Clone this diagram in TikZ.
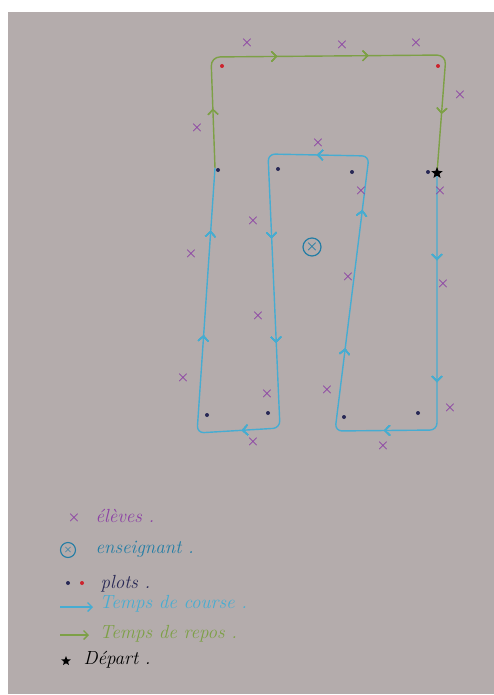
\documentclass[tikz,border=0pt]{standalone}
\usepackage{tikz}
\usepackage{xcolor}
\definecolor{Paper}{RGB}{180,172,172}
\definecolor{Course}{RGB}{70,172,210}
\definecolor{Repos}{RGB}{125,160,70}
\definecolor{Eleve}{RGB}{140,65,165}
\definecolor{Prof}{RGB}{35,125,165}
\definecolor{Plot}{RGB}{40,40,85}
\definecolor{PlotRed}{RGB}{205,35,45}
\usetikzlibrary{positioning,arrows.meta,shapes,decorations.markings}

\begin{document}
\begin{tikzpicture}[x=1pt, y=-1pt,
    course/.style={draw=Course, line width=1.4pt, rounded corners=7pt},
    repos/.style={draw=Repos, line width=1.4pt, rounded corners=9pt},
    eleve/.style={text=Eleve, inner sep=0pt, font=\Large\boldmath},
    plot/.style={circle, fill=Plot, inner sep=0pt, minimum size=4pt},
    plotrouge/.style={circle, fill=PlotRed, inner sep=0pt, minimum size=4pt},
    legende/.style={anchor=west, font=\fontsize{19}{22}\selectfont\itshape},
    chevron/.style={decoration={markings,
        mark=at position #1 with {\arrow{Straight Barb[length=5pt, width=10pt, line width=1.2pt]}}},
        postaction={decorate}}
]
    % feuille
    \useasboundingbox (0,0) rectangle (494,695);
    \fill[white] (0,0) rectangle (494,695);
    \fill[Paper] (8,12) rectangle (494,694);

    % coins du parcours
    \coordinate (depart) at (437,173);
    \coordinate (jonction) at (215,168);

    % temps de repos (vert)
    \draw[repos, chevron/.list={0.13,0.38,0.58,0.87}]
        (jonction) -- (211,57) -- (446,55) -- (depart);

    % temps de course (bleu)
    \draw[course, chevron/.list={0.065,0.156,0.229,0.325,0.429,0.506,0.603,0.681,0.771,0.875,0.953}]
        (depart) -- (437,430) -- (335,431) -- (369,156) -- (268,154)
        -- (280,428) -- (197,433) -- (jonction);

    % plots
    \node[plotrouge] (r1) at (222,66) {};
    \node[plotrouge] (r2) at (438,66) {};
    \foreach \x/\y [count=\i] in {218/170, 278/169, 352/172, 428/172,
                                 207/415, 268/413, 344/417, 418/413}
        \node[plot] (p\i) at (\x,\y) {};

    % eleves
    \foreach \x/\y [count=\i] in {247/43, 342/45, 416/43, 460/95, 197/128,
                                 318/143, 361/191, 440/191, 253/221, 191/254,
                                 348/277, 443/284, 258/316, 183/378, 267/394,
                                 327/390, 450/408, 253/442, 383/446}
        \node[eleve] (e\i) at (\x,\y) {$\times$};

    % enseignant
    \node[circle, draw=Prof, line width=1.2pt, minimum size=18pt, inner sep=0pt,
          text=Prof, font=\Large\boldmath] (prof) at (312,247) {$\times$};

    % depart
    \node[star, star points=5, star point ratio=2.3, fill=black, inner sep=0pt,
          minimum size=12pt] (star) at (depart) {};

    % legende
    \node[eleve] (le) at (74,518) {$\times$};
    \node[legende, text=Eleve] (te) at (92,516) {élèves .};
    \node[circle, draw=Prof, line width=1.1pt, minimum size=15pt, inner sep=0pt,
          text=Prof, font=\boldmath] (lp) at (68,550) {$\times$};
    \node[legende, text=Prof] (tp) at (92,549) {enseignant .};
    \node[plot] (lb) at (68,583) {};
    \node[plotrouge] (lr) at (82,583) {};
    \node[legende, text=Plot] (tb) at (97,584) {plots .};
    \coordinate (lc1) at (60,607);
    \coordinate (lc2) at (93,607);
    \draw[Course, line width=1.3pt, -{Straight Barb[length=4.5pt, width=9pt]}] (lc1) -- (lc2);
    \node[legende, text=Course] (tc) at (96,604) {Temps de course .};
    \coordinate (lr1) at (60,635);
    \coordinate (lr2) at (89,635);
    \draw[Repos, line width=1.3pt, -{Straight Barb[length=4.5pt, width=9pt]}] (lr1) -- (lr2);
    \node[legende, text=Repos] (tr) at (96,634) {Temps de repos .};
    \node[star, star points=5, star point ratio=2.3, fill=black, inner sep=0pt,
          minimum size=10pt] (ls) at (66,661) {};
    \node[legende, text=black] (td) at (80,660) {Départ .};
\end{tikzpicture}
\end{document}
